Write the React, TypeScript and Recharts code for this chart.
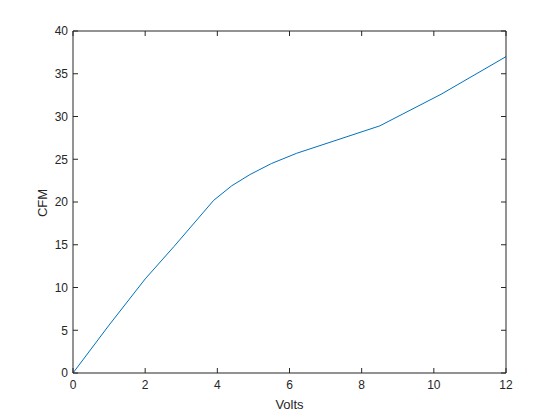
import React from 'react';
import { LineChart, Line, XAxis, YAxis } from 'recharts';

const volts = [0, 1, 2, 2.8, 3.9, 4.4, 4.9, 5.5, 6.2, 8.5, 10.2, 12];
const cfm = [0, 5.6, 11.0, 14.8, 20.2, 21.9, 23.2, 24.5, 25.7, 28.9, 32.6, 37.0];
const xTicks = [0, 2, 4, 6, 8, 10, 12];
const yTicks = [0, 5, 10, 15, 20, 25, 30, 35, 40];

const data = volts.map((v, i) => ({ volts: v, cfm: cfm[i] }));

const AXIS = '#262626';
const FONT = 'Arial, "Liberation Sans", Helvetica, sans-serif';
const TICK_LEN = 5;

const BottomTick = ({ x, y, payload }: any) => (
  <g>
    <line x1={x} y1={y} x2={x} y2={y - TICK_LEN} stroke={AXIS} />
    <text x={x} y={y + 16} textAnchor="middle" fill={AXIS} fontSize={12} fontFamily={FONT}>
      {payload.value}
    </text>
  </g>
);

const TopTick = ({ x, y }: any) => (
  <line x1={x} y1={y} x2={x} y2={y + TICK_LEN} stroke={AXIS} />
);

const LeftTick = ({ x, y, payload }: any) => (
  <g>
    <line x1={x} y1={y} x2={x + TICK_LEN} y2={y} stroke={AXIS} />
    <text x={x - 5} y={y + 4.3} textAnchor="end" fill={AXIS} fontSize={12} fontFamily={FONT}>
      {payload.value}
    </text>
  </g>
);

const RightTick = ({ x, y }: any) => (
  <line x1={x} y1={y} x2={x - TICK_LEN} y2={y} stroke={AXIS} />
);

export default function App() {
  return (
    <div style={{ position: 'absolute', left: 0, top: 0, width: 560, height: 420, background: '#fff' }}>
      <LineChart
        width={560}
        height={420}
        data={data}
        margin={{ top: 30, right: 53, left: 0, bottom: 0 }}
      >
        <XAxis
          dataKey="volts"
          type="number"
          domain={[0, 12]}
          ticks={xTicks}
          height={47}
          tickSize={0}
          tickMargin={0}
          tickLine={false}
          axisLine={{ stroke: AXIS }}
          tick={<BottomTick />}
          interval={0}
        />
        <XAxis
          xAxisId="top"
          dataKey="volts"
          orientation="top"
          type="number"
          domain={[0, 12]}
          ticks={xTicks}
          height={1}
          tickSize={0}
          tickMargin={0}
          tickLine={false}
          axisLine={{ stroke: AXIS }}
          tick={<TopTick />}
          interval={0}
        />
        <YAxis
          type="number"
          domain={[0, 40]}
          ticks={yTicks}
          width={73}
          tickSize={0}
          tickMargin={0}
          tickLine={false}
          axisLine={{ stroke: AXIS }}
          tick={<LeftTick />}
          interval={0}
        />
        <YAxis
          yAxisId="right"
          orientation="right"
          type="number"
          domain={[0, 40]}
          ticks={yTicks}
          width={1}
          tickSize={0}
          tickMargin={0}
          tickLine={false}
          axisLine={{ stroke: AXIS }}
          tick={<RightTick />}
          interval={0}
        />
        <Line
          xAxisId="top"
          yAxisId="right"
          type="linear"
          dataKey="cfm"
          stroke="none"
          dot={false}
          activeDot={false}
          legendType="none"
          isAnimationActive={false}
        />
        <Line
          type="linear"
          dataKey="cfm"
          stroke="#0072BD"
          strokeWidth={1}
          dot={false}
          isAnimationActive={false}
        />
      </LineChart>
      <svg
        width={560}
        height={420}
        style={{ position: 'absolute', left: 0, top: 0, pointerEvents: 'none' }}
      >
        <text x={289.5} y={409} textAnchor="middle" fill={AXIS} fontSize={13} fontFamily={FONT}>
          Volts
        </text>
        <text
          x={0}
          y={0}
          transform="translate(47 203) rotate(-90)"
          textAnchor="middle"
          fill={AXIS}
          fontSize={13}
          fontFamily={FONT}
        >
          CFM
        </text>
      </svg>
    </div>
  );
}
